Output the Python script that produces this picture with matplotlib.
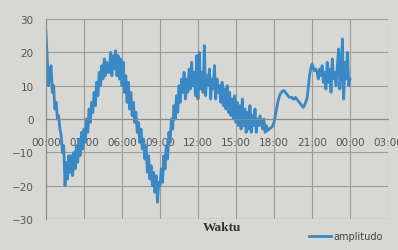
import numpy as np
import matplotlib
matplotlib.use("Agg")
import matplotlib.pyplot as plt

# amplitude, one value every 0.1 h (one row per hour)
amplitudo = [
    26, 18, 10, 14, 16, 8, 10, 3, 5, 0,
    1, -3, -5, -10, -8, -20, -13, -18, -11, -16,
    -11, -17, -10, -15, -8, -13, -6, -11, -4, -9,
    -3, -7, 0, -4, 3, -1, 5, 2, 8, 4,
    11, 7, 14, 10, 16, 12, 18, 13, 17, 14,
    14, 20, 13, 19, 15, 20.5, 13, 19, 12, 18,
    10, 17, 8, 13, 5, 11, 3, 8, 1, 5,
    -1, 2, -4, -1, -7, -3, -9, -6, -12, -8,
    -16, -11, -18, -14, -20, -16, -22, -17, -25, -19,
    -20, -15, -19, -11, -15, -8, -12, -4, -7, 0,
    -3, 4, 0, 7, 2, 10, 5, 12, 8, 14,
    6, 12, 8, 15, 9, 17, 10, 14, 7, 19,
    6, 20, 9, 14, 8, 22, 7, 13, 10, 15,
    6, 12, 9, 16, 6, 12, 8, 10, 5, 11,
    4, 9, 3, 10, 2, 8, 1, 6, 0, 7,
    -1, 5, -2, 4, -3, 6, -2, 3, -4, 2,
    -3, 4, -4, 1, -2, 3, -4, 0, -2, 1,
    -1, -3, 0, -4, -2, -3.5, -3, -2.8, -2.5, -2,
    -1, 1, 3, 5, 6.5, 7.5, 8, 8.5, 8.5, 8,
    7.5, 7, 6.5, 6.5, 6.5, 6, 6, 6.5, 6, 5.5,
    5, 4.5, 4, 3.5, 4, 5, 6, 9, 13, 15,
    16.5, 15.5, 14.5, 15, 14, 12, 15, 13, 16, 11,
    14, 9, 17, 11, 15, 8, 18, 12, 14, 10,
    16, 21, 9, 15, 24, 6, 17, 12, 20, 10,
    12,
]
waktu = np.arange(len(amplitudo)) * 0.1   # hours since 00:00

tick_hours = [0, 3, 6, 9, 12, 15, 18, 21, 24, 27]
tick_labels = ["00:00", "03:00", "06:00", "09:00", "12:00",
               "15:00", "18:00", "21:00", "00:00", "03:00"]
y_ticks = [-30, -20, -10, 0, 10, 20, 30]

bg = "#d7d7d3"
fig = plt.figure(figsize=(3.98, 2.51), dpi=100, facecolor=bg)
ax = fig.add_axes([46/398, 1-220/251, (388-46)/398, 200/251])
ax.set_facecolor(bg)

ax.plot(waktu, amplitudo, color="#3a88c4", lw=2.0, label="amplitudo")

ax.set_xlim(0, 27)
ax.set_ylim(-30, 30)
ax.set_xticks(tick_hours)
ax.set_xticklabels(tick_labels)
ax.set_yticks(y_ticks)
ax.grid(True, color="#9c9c9a", lw=0.8)
ax.set_axisbelow(True)

# x axis crosses at zero, like the Excel chart
ax.spines["bottom"].set_position("zero")
ax.spines["bottom"].set_color("#8a8a88")
ax.spines["left"].set_color("#8a8a88")
ax.spines["top"].set_visible(False)
ax.spines["right"].set_visible(False)
# keep the bottom gridline at -30
ax.axhline(-30, color="#9c9c9a", lw=0.8, zorder=0)

ax.tick_params(axis="x", length=0, pad=13, labelsize=7.5, labelcolor="#555555")
ax.tick_params(axis="y", length=0, pad=9, labelsize=7.5, labelcolor="#555555")

fig.text(222/398, 1-228/251, "Waktu", ha="center", va="center",
         family="Liberation Serif", fontweight="bold", fontsize=9.5, color="#333333")

fig.legend(loc="center left", bbox_to_anchor=(309/398, 1-237/251),
           frameon=False, fontsize=7, handlelength=2.3, handletextpad=0.2,
           borderpad=0, borderaxespad=0, labelcolor="#444444")

fig.savefig("out.png", dpi=100, facecolor=bg)
